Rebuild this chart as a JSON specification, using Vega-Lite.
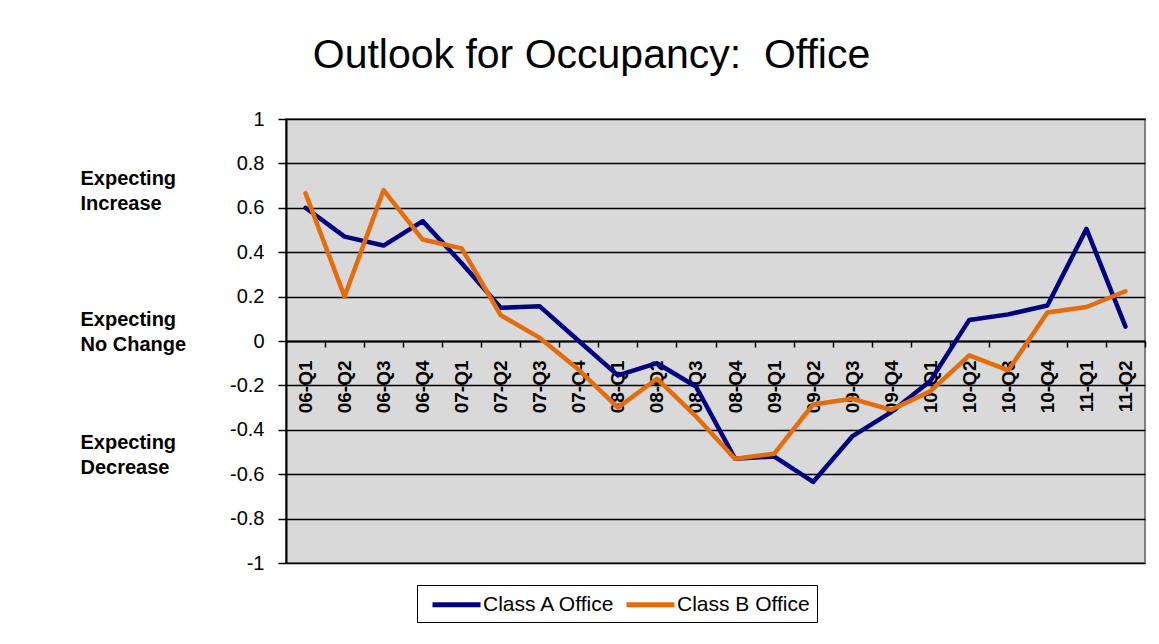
{
  "$schema": "https://vega.github.io/schema/vega-lite/v6.json",
  "autosize": "none",
  "width": 859,
  "height": 444,
  "padding": {"left": 286, "top": 119, "right": 14, "bottom": 81},
  "background": "white",
  "title": {
    "text": "Outlook for Occupancy:\u00a0 Office",
    "font": "Liberation Sans",
    "fontSize": 41,
    "fontWeight": "normal",
    "color": "black",
    "anchor": "middle",
    "frame": "group",
    "dx": -124,
    "offset": 32
  },
  "data": {
    "values": [
      {"q": "06-Q1", "a": 0.60, "b": 0.665},
      {"q": "06-Q2", "a": 0.47, "b": 0.20},
      {"q": "06-Q3", "a": 0.43, "b": 0.68},
      {"q": "06-Q4", "a": 0.54, "b": 0.457},
      {"q": "07-Q1", "a": 0.35, "b": 0.417},
      {"q": "07-Q2", "a": 0.15, "b": 0.116},
      {"q": "07-Q3", "a": 0.156, "b": 0.014},
      {"q": "07-Q4", "a": 0.0, "b": -0.13},
      {"q": "08-Q1", "a": -0.155, "b": -0.30},
      {"q": "08-Q2", "a": -0.10, "b": -0.17},
      {"q": "08-Q3", "a": -0.205, "b": -0.34},
      {"q": "08-Q4", "a": -0.53, "b": -0.53},
      {"q": "09-Q1", "a": -0.52, "b": -0.508},
      {"q": "09-Q2", "a": -0.635, "b": -0.286},
      {"q": "09-Q3", "a": -0.43, "b": -0.26},
      {"q": "09-Q4", "a": -0.32, "b": -0.31},
      {"q": "10-Q1", "a": -0.18, "b": -0.227},
      {"q": "10-Q2", "a": 0.095, "b": -0.065},
      {"q": "10-Q3", "a": 0.12, "b": -0.132},
      {"q": "10-Q4", "a": 0.16, "b": 0.128},
      {"q": "11-Q1", "a": 0.505, "b": 0.153},
      {"q": "11-Q2", "a": 0.065, "b": 0.224}
    ]
  },
  "encoding": {
    "x": {
      "field": "q",
      "type": "ordinal",
      "sort": null,
      "scale": {"type": "band", "paddingInner": 0, "paddingOuter": 0},
      "axis": {
        "title": null,
        "orient": "bottom",
        "offset": -222,
        "labelAngle": 270,
        "labelFont": "Liberation Sans",
        "labelFontWeight": "bold",
        "labelFontSize": 19,
        "labelColor": "black",
        "labelPadding": 13,
        "tickBand": "extent",
        "tickSize": 6,
        "tickColor": "black",
        "tickWidth": 1.5,
        "domainColor": "black",
        "domainWidth": 2,
        "grid": false,
        "labelOverlap": false
      }
    }
  },
  "layer": [
    {
      "mark": {"type": "line", "strokeWidth": 4.5, "strokeCap": "round", "strokeJoin": "round"},
      "encoding": {
        "y": {
          "field": "a",
          "type": "quantitative",
          "scale": {"domain": [-1, 1], "nice": false, "zero": false},
          "axis": {
            "title": null,
            "orient": "left",
            "values": [-1, -0.8, -0.6, -0.4, -0.2, 0, 0.2, 0.4, 0.6, 0.8, 1],
            "labelExpr": "replace(format(datum.value, '.1~f'), '\u2212', '-')",
            "labelFont": "Liberation Sans",
            "labelFontSize": 20,
            "labelColor": "black",
            "labelPadding": 14,
            "tickSize": 8,
            "tickColor": "black",
            "tickWidth": 1.5,
            "domainColor": "black",
            "domainWidth": 2,
            "grid": true,
            "gridColor": "black",
            "gridWidth": 1.5,
            "labelOverlap": false,
            "labelFlush": false
          }
        },
        "color": {
          "datum": "Class A Office",
          "type": "nominal",
          "scale": {"domain": ["Class A Office", "Class B Office"], "range": ["#000080", "#E46C0A"]},
          "legend": {
            "title": null,
            "orient": "none",
            "legendX": 131,
            "legendY": 466,
            "direction": "horizontal",
            "strokeColor": "black",
            "fillColor": "white",
            "padding": 7,
            "columnPadding": 0,
            "symbolType": "M-2.4,0H2.4",
            "symbolStrokeWidth": 5,
            "symbolSize": 400,
            "symbolOffset": 20,
            "labelFont": "Liberation Sans",
            "labelFontSize": 21,
            "labelColor": "black",
            "labelOffset": 14
          }
        }
      }
    },
    {
      "mark": {"type": "line", "strokeWidth": 4.5, "strokeCap": "round", "strokeJoin": "round"},
      "encoding": {
        "y": {
          "field": "b",
          "type": "quantitative",
          "axis": {
            "title": null,
            "orient": "left",
            "values": [0.734, 0.095, -0.459],
            "labelExpr": "datum.value > 0.5 ? ['Expecting', 'Increase'] : (datum.value > 0 ? ['Expecting', 'No Change'] : ['Expecting', 'Decrease'])",
            "labelFont": "Liberation Sans",
            "labelFontWeight": "bold",
            "labelFontSize": 20,
            "labelLineHeight": 25,
            "labelColor": "black",
            "labelAlign": "left",
            "labelBaseline": "middle",
            "labelPadding": 206,
            "ticks": false,
            "tickSize": 0,
            "domain": false,
            "grid": false,
            "labelOverlap": false,
            "labelFlush": false,
            "labelBound": false
          }
        },
        "color": {"datum": "Class B Office", "type": "nominal"}
      }
    }
  ],
  "resolve": {"scale": {"y": "shared"}, "axis": {"y": "independent"}},
  "config": {
    "font": "Liberation Sans",
    "view": {"fill": "#D9D9D9", "stroke": "#808080", "strokeWidth": 2}
  }
}
